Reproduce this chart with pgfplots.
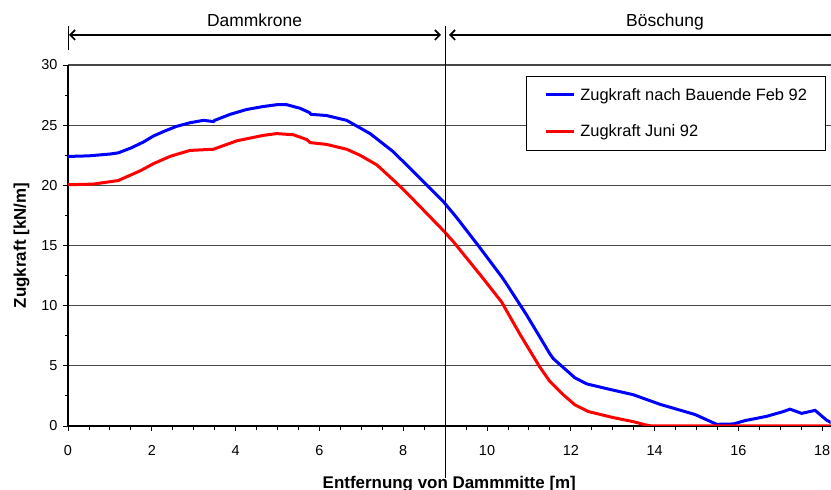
\documentclass[border=0pt]{standalone}
\usepackage{pgfplots}
\pgfplotsset{compat=1.18}
\usepackage{fontspec}
\setmainfont{Liberation Sans}
\usetikzlibrary{arrows.meta}

\definecolor{feb}{RGB}{0,0,255}
\definecolor{juni}{RGB}{255,0,0}

\begin{document}
\begin{tikzpicture}[x=1bp,y=1bp]
\begin{axis}[
  at={(68bp,64bp)}, anchor=south west,
  scale only axis,
  width=762.6bp, height=361bp,
  xmin=0, xmax=18.2, ymin=0, ymax=30,
  axis x line*=bottom, axis y line*=left,
  axis line style={line width=1.1bp, black, -},
  xtick={0,2,...,18}, ytick={0,5,...,30},
  minor x tick num=3, minor y tick num=1,
  tick align=outside,
  major tick length=5bp, minor tick length=3.5bp,
  tick style={black, line width=0.9bp},
  ymajorgrids,
  major grid style={black!72, line width=1.1bp},
  /pgf/number format/assume math mode=true,
  tick label style={font=\fontsize{14.5}{16}\selectfont},
  yticklabel style={xshift=-2bp},
  xticklabel style={yshift=-11bp},
  xlabel={\bfseries Entfernung von Dammmitte [m]},
  ylabel={\bfseries Zugkraft [kN/m]},
  label style={font=\fontsize{17}{19}\selectfont},
  x label style={at={(axis description cs:0.5,0)}, anchor=base, yshift=-62bp},
  y label style={at={(axis description cs:-0.0551,0.5)}, anchor=base},
  clip=true,
  legend cell align=left,
  legend image code/.code={\draw[#1] (0bp,0bp) -- (28bp,0bp);},
  legend style={
    at={(axis cs:10.93,29.1)}, anchor=north west,
    draw=black, line width=0.8bp, fill=white,
    font=\fontsize{16.5}{19}\selectfont,
    inner xsep=18bp, inner ysep=12bp,
    row sep=23bp,
    nodes={inner sep=0pt},
    /tikz/every odd column/.append style={column sep=5bp},
  },
]
\addplot[feb, line width=3bp] coordinates {
  (0,22.4) (0.5,22.45) (1.0,22.6) (1.2,22.7) (1.5,23.1) (1.8,23.6)
  (2.04,24.1) (2.3,24.5) (2.59,24.9) (2.91,25.2) (3.23,25.4) (3.47,25.3)
  (3.5,25.4) (3.87,25.9) (4.26,26.3) (4.66,26.55) (4.98,26.7) (5.22,26.7)
  (5.54,26.4) (5.76,26.05) (5.8,25.9) (6.17,25.8) (6.65,25.4) (7.21,24.3)
  (7.76,22.8) (8.4,20.6) (8.97,18.6) (9.28,17.3) (9.79,15.0) (10.35,12.4)
  (10.43,12.0) (10.95,9.2) (11.5,6.0) (11.58,5.6) (12.1,4.0) (12.38,3.5)
  (12.86,3.1) (13.49,2.6) (14.13,1.8) (14.92,1.0) (15.0,0.9) (15.48,0.14)
  (15.88,0.17) (16.16,0.45) (16.67,0.8) (17.07,1.2) (17.23,1.4) (17.51,1.05)
  (17.83,1.3) (18.1,0.5) (18.3,0.1)
};
\addlegendentry{Zugkraft nach Bauende Feb 92}
\addplot[juni, line width=3bp] coordinates {
  (0,20.05) (0.6,20.1) (1.2,20.4) (1.72,21.2) (2.04,21.8) (2.43,22.4)
  (2.91,22.9) (3.47,23.0) (4.03,23.7) (4.66,24.15) (4.98,24.3) (5.38,24.2)
  (5.70,23.8) (5.78,23.55) (6.17,23.4) (6.65,23.0) (6.97,22.5) (7.37,21.7)
  (7.84,20.2) (8.16,19.1) (8.97,16.2) (9.2,15.3) (9.48,14.1) (9.83,12.6)
  (10.35,10.3) (10.43,9.8) (10.79,7.6) (11.26,4.9) (11.5,3.7) (11.82,2.6)
  (12.1,1.75) (12.42,1.2) (13.01,0.7) (13.49,0.36) (13.85,0.03) (14,0)
  (18.3,0)
};
\addlegendentry{Zugkraft Juni 92}
\end{axis}

% section markers above the plot
\draw[black, line width=0.8bp] (68bp,440bp) -- (68bp,464bp);
\draw[black, line width=0.8bp] (445bp,12bp) -- (445bp,464bp);
\draw[black, line width=1.6bp, {Straight Barb[length=5bp,width=10bp]}-{Straight Barb[length=5bp,width=10bp]}]
  (69bp,455bp) -- (441bp,455bp);
\draw[black, line width=1.6bp, {Straight Barb[length=5bp,width=10bp]}-]
  (449bp,455bp) -- (840bp,455bp);
\node[anchor=base, font=\fontsize{17.5}{20}\selectfont, inner sep=0pt] at (254.5bp,463.3bp) {Dammkrone};
\node[anchor=base, font=\fontsize{17.5}{20}\selectfont, inner sep=0pt] at (665bp,463.3bp) {Böschung};

\pgfresetboundingbox
\path[use as bounding box] (0bp,0bp) rectangle (831bp,490bp);
\end{tikzpicture}
\end{document}
